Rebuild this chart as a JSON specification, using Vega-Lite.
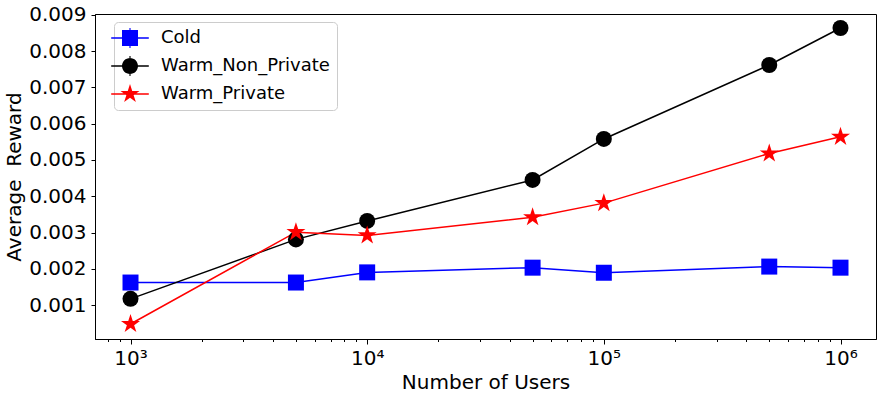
{
  "$schema": "https://vega.github.io/schema/vega-lite/v6.json",
  "width": 781,
  "height": 325,
  "autosize": {"type": "none"},
  "padding": {"left": 95, "top": 14, "right": 7, "bottom": 59},
  "background": "white",
  "config": {
    "font": "DejaVu Sans",
    "view": {"stroke": "black", "strokeWidth": 1},
    "axis": {
      "grid": false,
      "domainColor": "black",
      "domainWidth": 1,
      "tickColor": "black",
      "tickWidth": 1,
      "labelColor": "black",
      "titleColor": "black"
    },
    "legend": {
      "orient": "none",
      "legendX": 19,
      "legendY": 8,
      "padding": 7,
      "fillColor": "white",
      "strokeColor": "#cccccc",
      "cornerRadius": 4,
      "labelFontSize": 18,
      "labelFont": "DejaVu Sans",
      "labelColor": "black",
      "labelLimit": 400,
      "labelOffset": 22,
      "symbolSize": 256,
      "symbolStrokeWidth": 0,
      "symbolOpacity": 1,
      "rowPadding": 8
    }
  },
  "data": {
    "values": [
      {"users": 1000, "reward": 0.00162, "series": "Cold"},
      {"users": 5000, "reward": 0.00162, "series": "Cold"},
      {"users": 10000, "reward": 0.00190, "series": "Cold"},
      {"users": 50000, "reward": 0.00203, "series": "Cold"},
      {"users": 100000, "reward": 0.00189, "series": "Cold"},
      {"users": 500000, "reward": 0.00206, "series": "Cold"},
      {"users": 1000000, "reward": 0.00203, "series": "Cold"},
      {"users": 1000, "reward": 0.00117, "series": "Warm_Non_Private"},
      {"users": 5000, "reward": 0.00281, "series": "Warm_Non_Private"},
      {"users": 10000, "reward": 0.00332, "series": "Warm_Non_Private"},
      {"users": 50000, "reward": 0.00445, "series": "Warm_Non_Private"},
      {"users": 100000, "reward": 0.00558, "series": "Warm_Non_Private"},
      {"users": 500000, "reward": 0.00762, "series": "Warm_Non_Private"},
      {"users": 1000000, "reward": 0.00864, "series": "Warm_Non_Private"},
      {"users": 1000, "reward": 0.000476, "series": "Warm_Private"},
      {"users": 5000, "reward": 0.00301, "series": "Warm_Private"},
      {"users": 10000, "reward": 0.00292, "series": "Warm_Private"},
      {"users": 50000, "reward": 0.00342, "series": "Warm_Private"},
      {"users": 100000, "reward": 0.00381, "series": "Warm_Private"},
      {"users": 500000, "reward": 0.00518, "series": "Warm_Private"},
      {"users": 1000000, "reward": 0.00564, "series": "Warm_Private"}
    ]
  },
  "encoding": {
    "x": {
      "field": "users",
      "type": "quantitative",
      "scale": {"type": "log", "domain": [707.9, 1412537], "nice": false},
      "axis": {
        "title": "Number of Users",
        "values": [800, 900, 1000, 2000, 3000, 4000, 5000, 6000, 7000, 8000, 9000, 10000, 20000, 30000, 40000, 50000, 60000, 70000, 80000, 90000, 100000, 200000, 300000, 400000, 500000, 600000, 700000, 800000, 900000, 1000000],
        "labelExpr": "(abs(log(datum.value)/LN10 - round(log(datum.value)/LN10)) < 0.001) ? '10' + substring('⁰¹²³⁴⁵⁶⁷⁸⁹', round(log(datum.value)/LN10), round(log(datum.value)/LN10) + 1) : ''",
        "tickSize": {"condition": {"test": "abs(log(datum.value)/LN10 - round(log(datum.value)/LN10)) < 0.001", "value": 5}, "value": 2.5},
        "labelOverlap": false,
        "labelFlush": false,
        "labelFont": "DejaVu Sans",
        "labelFontSize": 20,
        "titleFont": "DejaVu Sans",
        "titleFontSize": 20,
        "titleFontWeight": "normal",
        "labelPadding": 4,
        "titlePadding": 4
      }
    },
    "y": {
      "field": "reward",
      "type": "quantitative",
      "scale": {"domain": [0.0000625, 0.009027], "nice": false, "zero": false},
      "axis": {
        "title": "Average\u00a0 Reward",
        "values": [0.001, 0.002, 0.003, 0.004, 0.005, 0.006, 0.007, 0.008, 0.009],
        "format": ".3f",
        "tickSize": 4,
        "labelPadding": 5,
        "labelFont": "DejaVu Sans",
        "labelFontSize": 20,
        "titleFont": "DejaVu Sans",
        "titleFontSize": 20,
        "titleFontWeight": "normal",
        "titlePadding": 4
      }
    }
  },
  "layer": [
    {
      "mark": {"type": "line", "strokeWidth": 1.5},
      "encoding": {
        "color": {
          "field": "series",
          "type": "nominal",
          "scale": {"domain": ["Cold", "Warm_Non_Private", "Warm_Private"], "range": ["#0000ff", "#000000", "#ff0000"]},
          "legend": null
        }
      }
    },
    {
      "mark": {"type": "point", "filled": true, "size": 256, "opacity": 1, "strokeWidth": 0},
      "encoding": {
        "color": {
          "field": "series",
          "type": "nominal",
          "scale": {"domain": ["Cold", "Warm_Non_Private", "Warm_Private"], "range": ["#0000ff", "#000000", "#ff0000"]},
          "legend": null
        },
        "shape": {
          "field": "series",
          "type": "nominal",
          "scale": {"domain": ["Cold", "Warm_Non_Private", "Warm_Private"], "range": ["square", "circle", "M0,-1.25L0.281,-0.386L1.189,-0.386L0.454,0.148L0.735,1.011L0,0.478L-0.735,1.011L-0.454,0.148L-1.189,-0.386L-0.281,-0.386Z"]},
          "legend": null
        }
      }
    },
    {
      "mark": {"type": "point", "filled": true, "size": 256, "opacity": 0, "strokeWidth": 0},
      "encoding": {
        "color": {
          "field": "series",
          "type": "nominal",
          "scale": {"domain": ["Cold", "Warm_Non_Private", "Warm_Private"], "range": ["#0000ff", "#000000", "#ff0000"]},
          "legend": {"title": null}
        },
        "shape": {
          "field": "series",
          "type": "nominal",
          "scale": {"domain": ["Cold", "Warm_Non_Private", "Warm_Private"], "range": [
            "M-3.1,0Z M-2.35,-0.09L2.35,-0.09L2.35,0.09L-2.35,0.09Z M-1,-1L1,-1L1,1L-1,1Z M-0.07,-1.25L0.07,-1.25L0.07,1.25L-0.07,1.25Z",
            "M-3.1,0Z M-2.35,-0.09L2.35,-0.09L2.35,0.09L-2.35,0.09Z M1,0A1,1,0,1,1,-1,0A1,1,0,1,1,1,0Z M-0.07,-1.25L0.07,-1.25L0.07,1.25L-0.07,1.25Z",
            "M-3.1,0Z M-2.35,-0.09L2.35,-0.09L2.35,0.09L-2.35,0.09Z M0,-1.25L0.281,-0.386L1.189,-0.386L0.454,0.148L0.735,1.011L0,0.478L-0.735,1.011L-0.454,0.148L-1.189,-0.386L-0.281,-0.386Z"
          ]},
          "legend": {"title": null}
        }
      }
    }
  ],
  "resolve": {
    "scale": {"shape": "independent"},
    "legend": {"color": "independent", "shape": "independent"}
  }
}
